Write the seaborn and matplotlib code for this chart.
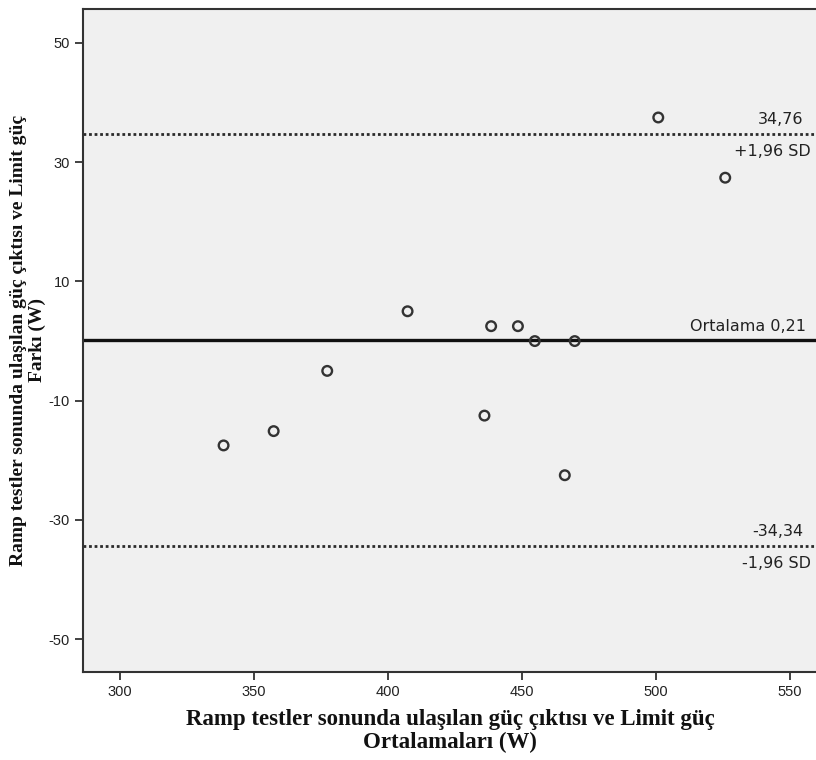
import pandas as pd
import matplotlib
matplotlib.use("Agg")
import matplotlib.pyplot as plt
import seaborn as sns

# Bland-Altman values
mean_w = [338.7, 357.4, 377.4, 407.4, 438.6, 448.6, 454.9, 469.8, 436.1, 466.1, 501.0, 526.0]
diff_w = [-17.5, -15.1, -5.0, 5.0, 2.5, 2.5, 0.0, 0.0, -12.5, -22.5, 37.5, 27.4]
mean_diff = 0.21
upper_loa = 34.76
lower_loa = -34.34
x_ticks = [300, 350, 400, 450, 500, 550]
y_ticks = [-50, -30, -10, 10, 30, 50]

df = pd.DataFrame({"mean": mean_w, "diff": diff_w})

sns.set_style("ticks")
plt.rcParams["font.family"] = ["DejaVu Sans"]
plt.rcParams["axes.unicode_minus"] = False

fig = plt.figure(figsize=(8.16, 7.6), dpi=100)
ax = fig.add_axes([0.102, 0.1158, 0.9, 0.8724])
ax.set_facecolor("#f0f0f0")

sns.scatterplot(data=df, x="mean", y="diff", ax=ax, s=48, facecolor="none",
                edgecolor="#333333", linewidth=1.7, zorder=3)

dark = "#2b2b2b"
ax.axhline(mean_diff, color="#111111", linewidth=2.4, zorder=2)
ax.axhline(upper_loa, color=dark, linewidth=2.0, linestyle=(0, (1, 1)), zorder=2)
ax.axhline(lower_loa, color=dark, linewidth=2.0, linestyle=(0, (1, 1)), zorder=2)

lab_font = dict(fontsize=11.5, color="#222222", family="DejaVu Sans")
ax.annotate(f"{upper_loa:.2f}".replace(".", ","), (555, upper_loa), xytext=(0, 5),
            textcoords="offset points", ha="right", va="bottom", **lab_font)
ax.annotate("+1,96 SD", (558, upper_loa), xytext=(0, -7),
            textcoords="offset points", ha="right", va="top", **lab_font)
ax.annotate("Ortalama " + f"{mean_diff:.2f}".replace(".", ","), (556, mean_diff), xytext=(0, 6),
            textcoords="offset points", ha="right", va="baseline", **lab_font)
ax.annotate(f"{lower_loa:.2f}".replace(".", ","), (555, lower_loa), xytext=(0, 5),
            textcoords="offset points", ha="right", va="bottom", **lab_font)
ax.annotate("-1,96 SD", (558, lower_loa), xytext=(0, -7),
            textcoords="offset points", ha="right", va="top", **lab_font)

ax.set_xlim(286.3, 560.5)
ax.set_ylim(-55.5, 55.7)
ax.set_xticks(x_ticks)
ax.set_yticks(y_ticks)
ax.tick_params(axis="both", direction="out", length=6, width=1.3, color="#333333",
               labelsize=10.5, labelcolor="#222222")
for lbl in ax.get_xticklabels() + ax.get_yticklabels():
    lbl.set_family(["Liberation Sans Narrow", "Liberation Sans"])

for side in ["left", "bottom", "top"]:
    ax.spines[side].set_color("#333333")
    ax.spines[side].set_linewidth(1.5)
ax.spines["right"].set_visible(False)

title_font = dict(family="Liberation Serif", fontweight="bold", color="#111111")
ax.set_xlabel("Ramp testler sonunda ulaşılan güç çıktısı ve Limit güç\nOrtalamaları (W)",
              fontsize=16.5, labelpad=7, linespacing=1.15, **title_font)
ax.set_ylabel("Ramp testler sonunda ulaşılan güç çıktısı ve Limit güç\nFarkı (W)",
              fontsize=14, linespacing=1.1, **title_font)
ax.yaxis.set_label_coords(-0.051, 0.5)

fig.savefig("out.png", dpi=100)
